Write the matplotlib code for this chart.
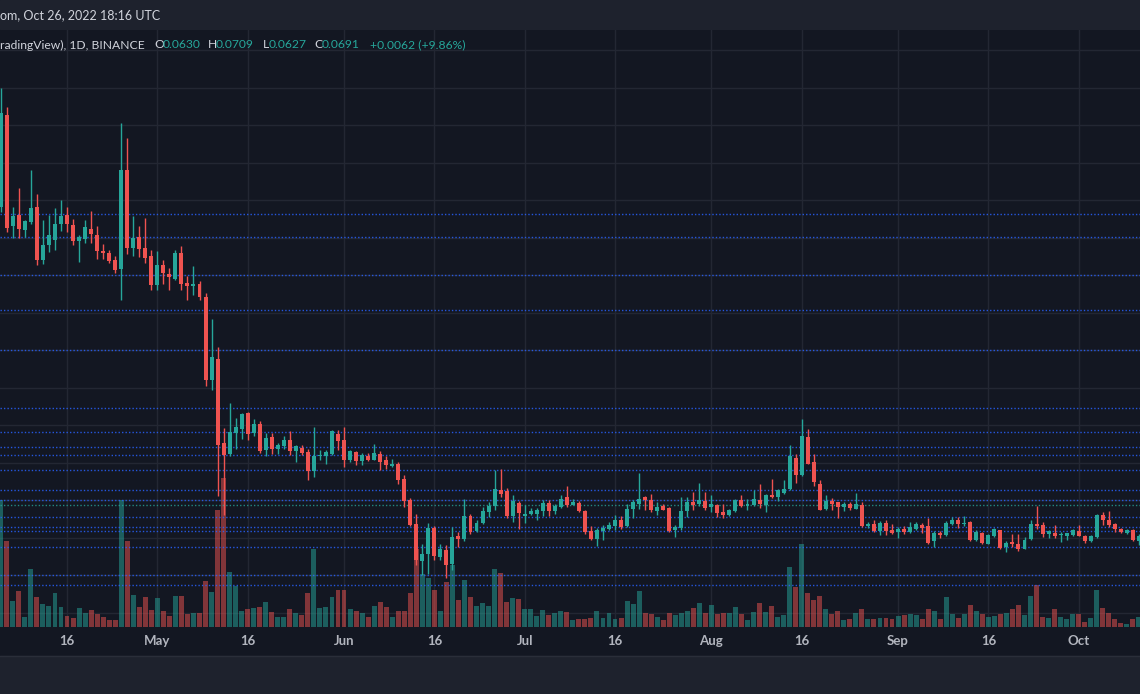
import matplotlib
matplotlib.use('Agg')
import matplotlib.pyplot as plt
import matplotlib.dates as mdates
import matplotlib.transforms as mtransforms
from matplotlib.patches import Rectangle
import numpy as np
import pandas as pd

# Daily candles, Apr 5 - Oct 11 2022 (prices in thousandths of USDT)
start_date = '2022-04-05'

opens = [128.6, 147.0, 124.9, 126.9, 124.1, 125.7, 128.5, 118.0, 121.0, 122.1,
         125.3, 127.0, 124.9, 121.8, 122.3, 124.3, 123.1, 119.8, 119.5, 118.1,
         116.3, 136.1, 120.5, 122.5, 120.5, 118.8, 113.1, 117.1, 115.3, 114.2,
         119.5, 113.3, 112.9, 113.2, 110.5, 94.0, 98.3, 81.5, 79.2, 83.5,
         84.2, 87.5, 83.5, 85.3, 80.0, 82.5, 80.2, 80.7, 82.0, 79.9,
         80.5, 79.7, 75.8, 78.7, 78.7, 79.2, 83.3, 82.1, 78.1, 79.7,
         77.8, 78.8, 78.1, 79.3, 77.9, 76.8, 77.2, 74.3, 70.0, 65.2,
         57.9, 59.2, 64.5, 58.7, 60.1, 57.2, 62.8, 62.3, 66.9, 63.8,
         65.5, 67.7, 68.8, 72.1, 71.7, 66.8, 69.5, 66.9, 67.3, 67.2,
         67.9, 69.5, 67.9, 68.7, 70.5, 69.1, 69.5, 67.8, 63.9, 62.3,
         63.9, 64.3, 64.8, 66.0, 64.8, 68.3, 69.2, 70.5, 70.1, 67.9,
         68.8, 68.3, 64.0, 64.5, 67.8, 69.5, 69.3, 69.8, 68.7, 69.0,
         67.5, 67.1, 67.8, 70.1, 68.8, 69.0, 70.1, 69.0, 71.0, 70.7,
         71.5, 72.2, 78.5, 74.9, 82.7, 77.7, 73.3, 68.3, 69.7, 69.5,
         68.7, 69.2, 68.3, 69.1, 64.8, 65.2, 63.9, 65.5, 64.0, 63.6,
         64.3, 63.7, 64.3, 65.0, 64.8, 61.8, 63.5, 63.0, 65.3, 66.1,
         65.3, 65.5, 62.1, 63.5, 61.3, 62.8, 64.0, 60.7, 61.7, 61.3,
         60.3, 62.3, 65.3, 65.0, 63.3, 63.5, 63.1, 62.9, 63.0, 63.8,
         62.9, 61.9, 62.7, 67.0, 66.1, 65.2, 64.3, 63.5, 64.0, 61.9]

highs = [152.4, 148.7, 128.7, 132.5, 126.0, 136.0, 131.3, 126.0, 127.1, 128.3,
         130.1, 128.7, 126.3, 123.0, 126.0, 127.8, 124.8, 121.2, 120.1, 118.8,
         145.5, 142.5, 126.8, 124.9, 126.5, 120.1, 119.8, 118.0, 116.5, 120.0,
         120.9, 114.8, 116.8, 113.8, 111.5, 106.3, 100.7, 84.5, 89.5, 86.5,
         87.5, 87.7, 86.2, 85.9, 83.5, 83.5, 81.5, 82.7, 83.8, 81.0,
         81.0, 80.3, 84.7, 80.0, 80.0, 84.0, 84.0, 84.7, 80.1, 79.9,
         79.5, 79.5, 81.2, 79.7, 78.7, 78.3, 77.7, 75.1, 70.5, 67.2,
         61.3, 65.5, 64.8, 61.2, 61.0, 64.7, 63.7, 70.2, 67.3, 66.1,
         68.7, 69.5, 75.9, 76.3, 72.5, 71.1, 69.8, 69.0, 68.5, 68.5,
         70.1, 70.1, 69.3, 71.1, 72.8, 70.2, 69.8, 68.1, 64.8, 64.5,
         65.0, 65.7, 67.0, 66.9, 69.3, 70.1, 75.5, 70.8, 71.3, 69.7,
         69.3, 68.7, 65.0, 70.7, 70.7, 71.7, 73.5, 71.7, 71.1, 69.2,
         69.3, 68.3, 70.3, 71.1, 70.3, 72.0, 73.3, 71.3, 74.3, 72.3,
         74.0, 81.1, 79.2, 86.3, 84.3, 79.2, 74.0, 71.0, 70.5, 69.7,
         69.5, 69.7, 71.5, 69.5, 65.7, 66.0, 65.9, 66.0, 65.2, 64.6,
         64.8, 65.6, 65.6, 65.5, 66.5, 63.9, 63.8, 65.8, 66.7, 66.7,
         66.8, 65.9, 64.0, 63.7, 63.2, 64.5, 64.1, 61.8, 63.2, 63.3,
         62.7, 66.1, 68.8, 65.7, 64.0, 65.0, 63.7, 63.5, 64.3, 65.0,
         63.1, 63.0, 67.3, 67.7, 67.9, 65.5, 64.5, 64.3, 64.3, 63.3]

lows = [127.6, 123.7, 122.5, 122.5, 122.7, 125.2, 117.1, 117.3, 119.7, 120.0,
        123.9, 123.7, 121.1, 117.7, 121.5, 121.5, 118.2, 118.3, 117.5, 115.5,
        110.0, 119.2, 118.8, 118.7, 117.5, 112.0, 112.1, 113.3, 112.0, 114.0,
        112.0, 110.0, 110.9, 110.0, 92.8, 91.9, 70.8, 67.0, 78.8, 80.3,
        82.3, 82.0, 82.7, 79.5, 78.7, 79.3, 79.3, 80.3, 79.0, 77.7,
        78.9, 74.0, 74.7, 78.0, 77.3, 79.0, 80.0, 76.7, 77.7, 77.0,
        77.0, 77.8, 78.0, 76.0, 76.3, 76.7, 73.2, 68.7, 64.8, 57.0,
        55.0, 55.3, 58.1, 58.1, 54.5, 56.0, 60.7, 61.9, 63.3, 63.7,
        65.3, 66.7, 68.0, 70.7, 66.5, 65.7, 64.3, 65.5, 67.0, 66.0,
        66.8, 66.8, 67.2, 68.5, 68.7, 69.0, 67.7, 63.3, 62.1, 60.9,
        62.1, 64.0, 64.0, 64.3, 64.7, 66.5, 68.3, 68.0, 67.7, 67.0,
        68.0, 63.7, 62.7, 64.0, 66.7, 68.0, 68.8, 68.1, 67.7, 66.7,
        66.5, 66.8, 67.7, 68.7, 68.0, 68.8, 68.5, 67.7, 70.5, 69.8,
        71.3, 72.0, 73.5, 74.8, 77.2, 72.8, 68.0, 68.1, 68.1, 66.5,
        67.9, 68.0, 68.2, 64.7, 64.5, 63.7, 63.1, 63.0, 63.2, 62.5,
        63.2, 63.4, 64.0, 63.4, 61.2, 60.7, 62.5, 62.8, 65.0, 64.5,
        64.8, 61.9, 61.9, 61.3, 61.2, 62.7, 60.2, 59.7, 60.7, 59.9,
        60.2, 62.1, 64.3, 62.7, 62.5, 62.5, 61.7, 62.0, 62.9, 62.8,
        61.5, 61.7, 62.5, 65.0, 64.7, 63.7, 63.5, 63.3, 61.9, 61.0]

closes = [147.4, 124.5, 126.8, 124.2, 125.9, 128.5, 118.0, 121.0, 122.9, 125.2,
          126.8, 125.2, 121.8, 122.5, 124.5, 123.2, 119.9, 119.5, 117.8, 116.1,
          136.0, 120.5, 122.5, 120.3, 118.5, 113.1, 117.1, 115.5, 114.7, 119.5,
          113.2, 112.9, 113.2, 110.7, 93.9, 98.7, 81.0, 79.0, 83.5, 84.7,
          87.3, 83.2, 85.3, 79.7, 82.5, 80.3, 81.0, 82.0, 79.9, 80.7,
          79.5, 75.8, 78.8, 79.0, 79.5, 83.8, 81.8, 78.1, 79.7, 77.8,
          79.0, 78.0, 79.5, 77.7, 77.0, 77.2, 73.9, 69.8, 65.1, 58.0,
          59.2, 64.5, 58.8, 60.1, 57.0, 62.7, 62.3, 66.9, 63.7, 65.5,
          67.8, 68.8, 72.3, 71.3, 66.8, 69.7, 67.5, 67.2, 67.7, 68.0,
          69.3, 67.9, 68.9, 70.3, 69.1, 69.6, 67.9, 63.7, 62.3, 64.0,
          64.5, 65.0, 66.1, 64.6, 68.3, 69.5, 70.3, 70.0, 68.1, 68.7,
          68.1, 63.9, 64.7, 67.8, 69.5, 69.0, 70.0, 68.5, 69.2, 67.5,
          67.1, 68.0, 70.0, 68.8, 69.3, 70.2, 69.3, 71.1, 70.7, 72.0,
          72.2, 78.8, 74.9, 82.7, 77.3, 73.7, 68.1, 69.7, 69.3, 68.7,
          69.3, 68.5, 69.3, 64.9, 65.2, 63.9, 65.5, 63.8, 63.5, 64.3,
          63.7, 64.7, 65.3, 64.4, 61.5, 63.5, 63.0, 65.5, 66.1, 65.2,
          65.5, 62.1, 63.5, 61.5, 63.0, 64.3, 60.5, 61.5, 61.2, 60.2,
          62.1, 65.2, 64.8, 63.3, 63.8, 62.9, 63.3, 63.3, 64.0, 62.9,
          61.9, 62.8, 67.0, 66.0, 65.1, 64.2, 63.7, 64.1, 62.1, 62.8]

# daily volume, millions
volumes = [2540, 1720, 526, 720, 194, 1154, 594, 460, 420, 686,
           406, 226, 186, 386, 286, 340, 260, 206, 140, 140,
           2540, 1720, 640, 406, 594, 340, 586, 320, 226, 620,
           620, 266, 286, 286, 920, 700, 2340, 2980, 1094, 826,
           326, 366, 386, 400, 494, 294, 206, 206, 360, 274,
           240, 680, 1560, 386, 400, 600, 740, 740, 360, 326,
           274, 194, 420, 494, 400, 194, 326, 326, 674, 1554,
           1054, 986, 740, 326, 900, 1240, 540, 934, 594, 420,
           474, 420, 1160, 1074, 494, 574, 560, 354, 360, 220,
           334, 240, 286, 326, 300, 140, 166, 154, 174, 320,
           174, 274, 160, 174, 520, 460, 720, 286, 260, 206,
           140, 286, 246, 286, 320, 380, 474, 286, 440, 260,
           286, 274, 400, 260, 140, 306, 474, 306, 420, 194,
           240, 1206, 806, 1660, 674, 540, 620, 354, 260, 326,
           140, 160, 286, 354, 154, 154, 174, 174, 154, 220,
           240, 260, 240, 154, 360, 326, 166, 594, 260, 186,
           260, 440, 314, 260, 206, 220, 260, 286, 360, 440,
           240, 620, 834, 206, 186, 354, 206, 166, 260, 260,
           106, 174, 740, 380, 286, 166, 86, 60, 154, 194]

# drawn horizontal levels (thousandths)
levels = [127.2, 122.6, 115.0, 108.0, 100.0, 88.4, 83.6, 80.6, 79.0, 76.0,
          72.0, 70.1, 66.6, 64.6, 63.8, 60.6, 55.1, 53.0]
last_price = 0.0691

tick_dates = ['2022-04-16', '2022-05-01', '2022-05-16', '2022-06-01', '2022-06-16',
              '2022-07-01', '2022-07-16', '2022-08-01', '2022-08-16', '2022-09-01',
              '2022-09-16', '2022-10-01']
tick_labels = ['16', 'May', '16', 'Jun', '16', 'Jul', '16', 'Aug', '16', 'Sep', '16', 'Oct']

BG = '#131722'
PANEL = '#1e222d'
GRID = '#232733'
UP = '#26a69a'
DOWN = '#ef5350'
TXT = '#d1d4dc'

o = np.array(opens) / 1000
h = np.array(highs) / 1000
l = np.array(lows) / 1000
c = np.array(closes) / 1000
v = np.array(volumes)
dates = pd.date_range(start_date, periods=len(o), freq='D')
x = mdates.date2num(dates)
up = c >= o
cols = np.where(up, UP, DOWN)

fig = plt.figure(figsize=(11.4, 6.94), dpi=100, facecolor=BG)
rect = [0, 67 / 694, 1, 597 / 694]

# volume axes underneath
axv = fig.add_axes(rect)
axv.set_facecolor(BG)
ax = fig.add_axes(rect, sharex=axv)
ax.patch.set_alpha(0)

xmin = x[0] - 0.13
xmax = x[0] + 189.18
ax.set_xlim(xmin, xmax)
ax.set_ylim(0.0446, 0.164)
axv.set_ylim(0, 11940)

# grid (drawn in the bottom axes, using the price scale for y)
tx = mdates.date2num(pd.to_datetime(tick_dates))
for t in tx:
    axv.axvline(t, color=GRID, lw=1, zorder=0)
grid_tr = mtransforms.blended_transform_factory(axv.transAxes, ax.transData)
for p in np.arange(0.0475, 0.1651, 0.0075):
    axv.plot([0, 1], [p, p], color=GRID, lw=1, transform=grid_tr, zorder=0)

vol_cols = [(0.149, 0.651, 0.604, 0.5) if u else (0.937, 0.325, 0.314, 0.5) for u in up]
axv.bar(x, v, width=0.82, color=vol_cols, zorder=2)

# level lines
for lv in levels:
    ax.axhline(lv / 1000, color='#2962ff', lw=1, ls=(0, (1, 1.5)), alpha=0.85, zorder=1)
ax.axhline(last_price, color=UP, lw=1, ls=(0, (1, 1.5)), alpha=0.8, zorder=1)

# candles
ax.vlines(x, l, h, colors=cols, lw=1, zorder=3)
body = np.maximum(np.abs(c - o), 0.00018)
ax.bar(x, body, bottom=np.minimum(o, c), width=0.66, color=cols, zorder=4)

for a in (ax, axv):
    for s in a.spines.values():
        s.set_visible(False)
    a.set_yticks([])
axv.tick_params(axis='x', bottom=False, labelbottom=False)
ax.set_xticks(tx)
ax.set_xticklabels(tick_labels)
ax.tick_params(axis='x', length=0, pad=6, colors='#b2b5be', labelsize=9.5)
for lab in ax.get_xticklabels():
    lab.set_family('Lato')
    lab.set_fontweight('bold')

# header strip and bottom panel
fig.add_artist(Rectangle((0, 1 - 29 / 694), 1, 29 / 694, transform=fig.transFigure,
                         color=PANEL, zorder=0))
fig.add_artist(Rectangle((0, 0), 1, 38 / 694, transform=fig.transFigure,
                         color=PANEL, zorder=0))
fig.add_artist(plt.Line2D([0, 1], [38 / 694, 38 / 694], transform=fig.transFigure,
                          color='#2a2e39', lw=1))

def ftext(px, py, s, color=TXT, size=8.7):
    fig.text(px / 1140, 1 - py / 694, s, ha='left', va='center', color=color,
             fontsize=size, family='Lato')

ftext(0, 15.5, 'om, Oct 26, 2022 18:16 UTC', size=9.0)
ftext(0, 45, 'radingView), 1D, BINANCE')
ftext(154, 45, 'O')
ftext(163, 45, '0.0630', UP)
ftext(208, 45, 'H')
ftext(216, 45, '0.0709', UP)
ftext(263, 45, 'L')
ftext(269, 45, '0.0627', UP)
ftext(314, 45, 'C')
ftext(322, 45, '0.0691', UP)
ftext(370, 45, '+0.0062 (+9.86%)', UP)

fig.savefig('out.png', dpi=100, facecolor=BG)
